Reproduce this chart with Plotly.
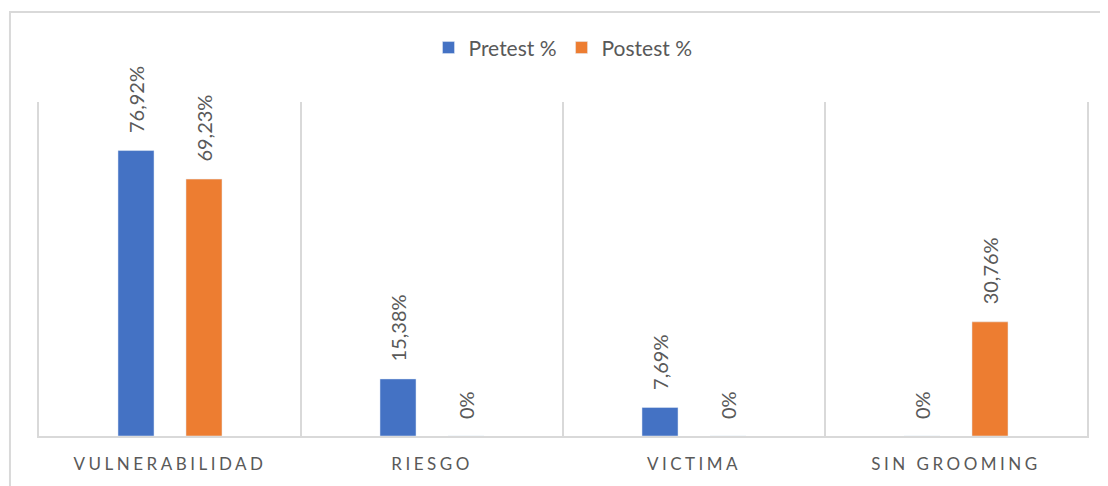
import plotly.graph_objects as go

# Datos del grafico
categorias = ["VULNERABILIDAD", "RIESGO", "VICTIMA", "SIN GROOMING"]
pretest = [76.92, 15.38, 7.69, 0]
postest = [69.23, 0, 0, 30.76]
pretest_txt = ["76,92%", "15,38%", "7,69%", "0%"]
postest_txt = ["69,23%", "0%", "0%", "30,76%"]

azul = "#4472C4"
naranja = "#ED7D31"
gris = "#595959"
linea = "#D9D9D9"

fig = go.Figure()
fig.add_trace(go.Bar(x=categorias, y=pretest, name="Pretest %", marker_color=azul))
fig.add_trace(go.Bar(x=categorias, y=postest, name="Postest %", marker_color=naranja))

# Etiquetas de datos giradas (estilo Excel)
for serie, txts, shift in [(pretest, pretest_txt, -34), (postest, postest_txt, 34)]:
    for cat, val, t in zip(categorias, serie, txts):
        fig.add_annotation(x=cat, y=val, text=t, textangle=-90, showarrow=False,
                           xanchor="center", yanchor="bottom", xshift=shift, yshift=15,
                           font=dict(family="Lato", size=20, color=gris))

# Marco del grafico
fig.add_shape(type="rect", xref="paper", yref="paper",
              x0=-0.0277, x1=1.05, y0=-0.2, y1=1.2695,
              line=dict(color=linea, width=2), layer="below")

# la pagina tiene 8px de margen: el grafico se dibuja en 1100x478
fig.update_layout(
    width=1100, height=478,
    margin=dict(l=31, r=21, t=94, b=50),
    paper_bgcolor="white", plot_bgcolor="white",
    barmode="group", bargap=0.481, bargroupgap=0.47,
    font=dict(family="Lato", color=gris),
    legend=dict(orientation="h", x=0.5, xanchor="center", y=1.162, yanchor="middle",
                font=dict(size=21, color=gris), itemwidth=30),
    showlegend=True,
)
fig.update_xaxes(tickson="boundaries", showgrid=True, gridcolor=linea, gridwidth=2,
                 showline=True, linecolor=linea, linewidth=2, ticks="",
                 ticklabelstandoff=12, tickfont=dict(size=17, color=gris),
                 range=[-0.5, 3.5])
fig.update_yaxes(range=[0, 90], showgrid=False, showticklabels=False, zeroline=False,
                 showline=True, mirror=True, linecolor=linea, linewidth=2)

post = """
document.querySelectorAll('.xtick text').forEach(function(t){t.style.letterSpacing='3.5px';});
"""
fig.write_html("out.html", post_script=post)
